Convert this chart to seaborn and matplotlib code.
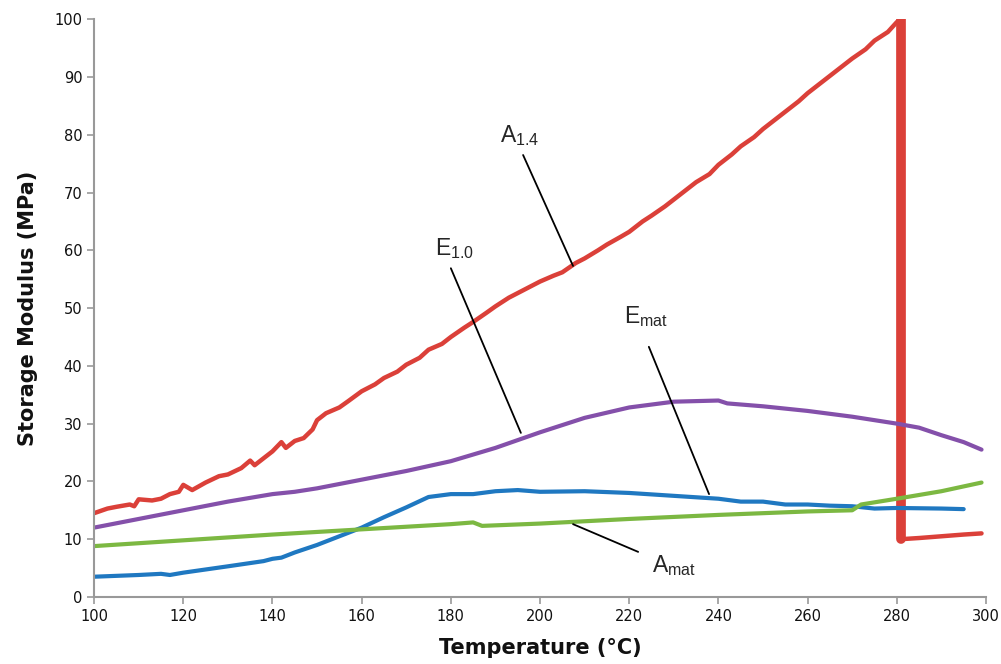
import matplotlib
matplotlib.use("Agg")
from matplotlib import pyplot as plt
import numpy as np
import seaborn as sns

# values
a14_t = [100, 103, 105, 108, 109, 110, 113, 115, 117, 119, 120, 122, 125, 128, 130, 133, 135, 136, 138,
         140, 142, 143, 145, 147, 149, 150, 152, 155, 157, 160, 163, 165, 168, 170, 173, 175, 178, 180,
         183, 185, 188, 190, 193, 195, 198, 200, 203, 205, 208, 210, 213, 215, 218, 220, 223, 225, 228,
         230, 233, 235, 238, 240, 243, 245, 248, 250, 253, 255, 258, 260, 263, 265, 268, 270, 273, 275,
         278, 280, 281, 281, 285, 290, 295, 299]
a14_v = [14.5, 15.3, 15.6, 16.0, 15.7, 16.9, 16.7, 17.0, 17.8, 18.2, 19.4, 18.5, 19.8, 20.9, 21.2, 22.3,
         23.6, 22.8, 24.0, 25.2, 26.8, 25.8, 27.0, 27.5, 29.0, 30.6, 31.8, 32.8, 33.9, 35.6, 36.8, 37.9,
         39.0, 40.2, 41.4, 42.8, 43.8, 45.0, 46.6, 47.6, 49.2, 50.3, 51.8, 52.6, 53.8, 54.6, 55.6, 56.2,
         57.8, 58.6, 60.0, 61.0, 62.3, 63.2, 65.0, 66.0, 67.6, 68.8, 70.6, 71.8, 73.2, 74.8, 76.6, 78.0,
         79.6, 81.0, 82.8, 84.0, 85.8, 87.2, 89.0, 90.2, 92.0, 93.2, 94.8, 96.3, 97.8, 99.5, 100.0, 10.0,
         10.2, 10.5, 10.8, 11.0]

e10_t = [100, 110, 120, 130, 140, 145, 150, 160, 170, 180, 190, 200, 210, 220, 230, 240, 242, 250, 260,
         270, 280, 285, 290, 295, 299]
e10_v = [12.0, 13.5, 15.0, 16.5, 17.8, 18.2, 18.8, 20.3, 21.8, 23.5, 25.8, 28.5, 31.0, 32.8, 33.8, 34.0,
         33.5, 33.0, 32.2, 31.2, 30.0, 29.3, 28.0, 26.8, 25.5]

emat_t = [100, 110, 115, 117, 120, 130, 138, 140, 142, 145, 150, 155, 160, 165, 170, 175, 180, 185, 190,
          195, 200, 210, 220, 230, 240, 245, 250, 255, 260, 265, 270, 275, 280, 290, 295]
emat_v = [3.5, 3.8, 4.0, 3.8, 4.2, 5.3, 6.2, 6.6, 6.8, 7.7, 9.0, 10.5, 12.0, 13.8, 15.5, 17.3, 17.8,
          17.8, 18.3, 18.5, 18.2, 18.3, 18.0, 17.5, 17.0, 16.5, 16.5, 16.0, 16.0, 15.8, 15.7, 15.3, 15.4,
          15.3, 15.2]

amat_t = [100, 120, 140, 160, 180, 185, 187, 200, 220, 240, 260, 270, 272, 280, 290, 299]
amat_v = [8.8, 9.8, 10.8, 11.7, 12.6, 12.9, 12.3, 12.7, 13.5, 14.2, 14.8, 15.0, 16.0, 17.0, 18.3, 19.8]

labels = [r"A$_{\mathrm{1.4}}$", r"E$_{\mathrm{1.0}}$", r"E$_{\mathrm{mat}}$", r"A$_{\mathrm{mat}}$"]
colors = ["#DB4039", "#8450AA", "#1F78C1", "#7CB842"]

sns.set_style("white")
plt.rcParams["mathtext.fontset"] = "custom"
plt.rcParams["mathtext.rm"] = "Liberation Sans"

fig, ax = plt.subplots(figsize=(10.01, 6.64), dpi=100)
fig.subplots_adjust(left=0.094, right=0.985, bottom=0.101, top=0.971)

drop = a14_t.index(281)
sns.lineplot(x=a14_t, y=a14_v, ax=ax, color=colors[0], lw=3.2, estimator=None, sort=False)
# the drop to the end of the test is drawn heavier in the original
sns.lineplot(x=a14_t[drop:drop + 2], y=a14_v[drop:drop + 2], ax=ax, color=colors[0], lw=7,
             estimator=None, sort=False)
sns.lineplot(x=e10_t, y=e10_v, ax=ax, color=colors[1], lw=3, estimator=None, sort=False)
sns.lineplot(x=emat_t, y=emat_v, ax=ax, color=colors[2], lw=3, estimator=None, sort=False)
sns.lineplot(x=amat_t, y=amat_v, ax=ax, color=colors[3], lw=3, estimator=None, sort=False)

# labels with leader lines: (text pos, line start, line end)
notes = [((191.0, 78.7), (196.2, 76.5), (207.4, 57.3)),
         ((176.5, 59.2), (180.0, 56.9), (195.7, 28.4)),
         ((218.8, 47.4), (224.4, 43.3), (237.9, 17.8)),
         ((225.1, 4.3), (207.4, 12.6), (222.0, 7.8))]
for lab, (tp, p0, p1) in zip(labels, notes):
    ax.plot([p0[0], p1[0]], [p0[1], p1[1]], color="black", lw=1.3)
    ax.text(tp[0], tp[1], lab, fontsize=16.5, family="Liberation Sans", ha="left", va="baseline")

ax.set_xlim(100, 300)
ax.set_ylim(0, 100)
ax.set_xticks(np.arange(100, 301, 20))
ax.set_yticks(np.arange(0, 101, 10))
for s in ["top", "right"]:
    ax.spines[s].set_visible(False)
for s in ["left", "bottom"]:
    ax.spines[s].set_color("#999999")
    ax.spines[s].set_linewidth(1.5)
ax.tick_params(axis="both", direction="out", length=5, width=1.2, color="#999999",
               labelsize=10.5, labelcolor="#111111", left=True, bottom=True)
ax.set_xlabel("Temperature (°C)", fontsize=15, fontweight="bold", labelpad=10, color="#111111")
ax.set_ylabel("Storage Modulus (MPa)", fontsize=15, fontweight="bold", labelpad=12, color="#111111")

fig.savefig("out.png", dpi=100)
